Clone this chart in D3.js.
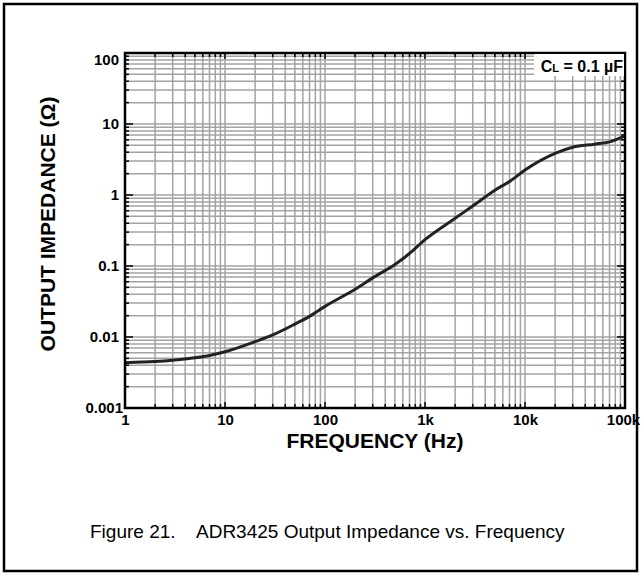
<!DOCTYPE html>
<html>
  <head>
    <meta charset="utf-8">
    <title>ADR3425 Output Impedance vs. Frequency</title>
    <style>
      body { margin: 0; background: #fff; }
      svg { display: block; }
      .tick text { font-family: "Liberation Sans", Arial, sans-serif; font-weight: bold; font-size: 15px; fill: #000; }
    </style>
  </head>
  <body>
    <div id="vis"></div>
    <script src="https://d3js.org/d3.v7.min.js"></script>
    <script>
    // curve: frequency (Hz) and impedance (ohm)
    let freq = [1, 2, 3, 5, 7, 10, 20, 30, 50, 70, 100, 200, 300, 500, 700, 1000, 2000, 3000, 5000, 7000, 10000, 20000, 30000, 50000, 70000, 100000];
    let zout = [0.00435, 0.0045, 0.0047, 0.0051, 0.0055, 0.0062, 0.0086, 0.0107, 0.0152, 0.0195, 0.0270, 0.047, 0.068, 0.105, 0.150, 0.235, 0.47, 0.70, 1.17, 1.55, 2.25, 3.86, 4.7, 5.2, 5.6, 6.8];
    let xTicks = [1, 10, 100, 1000, 10000, 100000];
    let xTickLabels = ["1", "10", "100", "1k", "10k", "100k"];
    let yTicks = [0.001, 0.01, 0.1, 1, 10, 100];
    let yTickLabels = ["0.001", "0.01", "0.1", "1", "10", "100"];

    let w = 641, h = 574;
    let pLeft = 125, pRight = 625, pTop = 53, pBottom = 408;
    let font = "Liberation Sans, Arial, sans-serif";

    let svg = d3.select("#vis").append("svg")
                .attr("width", w)
                .attr("height", h);

    // outer frame of the figure
    svg.append("rect").attr("x", 4).attr("y", 4)
       .attr("width", 633).attr("height", 567)
       .style("fill", "none").style("stroke", "#000").style("stroke-width", 2.5);

    let x = d3.scaleLog().domain([1, 100000]).range([pLeft, pRight]);
    let y = d3.scaleLog().domain([0.001, 100]).range([pBottom, pTop]);

    // all 1..9 per decade positions
    let minorX = [], minorY = [];
    for (let e = 0; e < 5; e++) for (let m = 1; m < 10; m++) minorX.push(m * Math.pow(10, e));
    for (let e = -3; e < 2; e++) for (let m = 1; m < 10; m++) minorY.push(+(m * Math.pow(10, e)).toPrecision(3));

    let grid = svg.append("g").style("stroke", "#a3a3a3").style("stroke-width", 1.5);
    grid.selectAll(".gx").data(minorX.slice(1)).enter().append("line")
        .attr("x1", d => x(d)).attr("x2", d => x(d))
        .attr("y1", pTop).attr("y2", pBottom);
    grid.selectAll(".gy").data(minorY.slice(1)).enter().append("line")
        .attr("x1", pLeft).attr("x2", pRight)
        .attr("y1", d => y(d)).attr("y2", d => y(d));

    // inward tick marks on all four sides
    let tk = svg.append("g").style("stroke", "#000").style("stroke-width", 1.5);
    minorX.forEach(function(d) {
      let len = xTicks.indexOf(d) >= 0 ? 6 : 4;
      tk.append("line").attr("x1", x(d)).attr("x2", x(d)).attr("y1", pBottom).attr("y2", pBottom - len);
      tk.append("line").attr("x1", x(d)).attr("x2", x(d)).attr("y1", pTop).attr("y2", pTop + len);
    });
    minorY.forEach(function(d) {
      let len = yTicks.indexOf(d) >= 0 ? 8 : 4;
      tk.append("line").attr("x1", pLeft).attr("x2", pLeft + len).attr("y1", y(d)).attr("y2", y(d));
      tk.append("line").attr("x1", pRight).attr("x2", pRight - len).attr("y1", y(d)).attr("y2", y(d));
    });

    // tick labels via axes (tick lines hidden)
    let xAxis = svg.append("g").attr("transform", "translate(0," + pBottom + ")")
      .call(d3.axisBottom(x).tickValues(xTicks).tickSize(0).tickPadding(6)
            .tickFormat((d, i) => xTickLabels[i]));
    let yAxis = svg.append("g").attr("transform", "translate(" + pLeft + ",0)")
      .call(d3.axisLeft(y).tickValues(yTicks).tickSize(0).tickPadding(6)
            .tickFormat((d, i) => yTickLabels[i]));
    xAxis.select(".domain").remove();
    yAxis.select(".domain").remove();
    yAxis.selectAll(".tick").filter(d => d === 100).select("text").attr("dy", "0.75em");
    yAxis.selectAll(".tick").filter(d => d === 0.001).select("text").attr("x", -2);
    xAxis.selectAll(".tick").filter(d => d === 100000).select("text").attr("x", -2);

    // curve
    let line = d3.line().x((d, i) => x(freq[i])).y((d, i) => y(zout[i])).curve(d3.curveMonotoneX);
    svg.append("path").datum(zout)
       .attr("d", line)
       .style("fill", "none").style("stroke", "#222").style("stroke-width", 3);

    // plot frame
    svg.append("rect").attr("x", pLeft).attr("y", pTop)
       .attr("width", pRight - pLeft).attr("height", pBottom - pTop)
       .style("fill", "none").style("stroke", "#000").style("stroke-width", 2.5);

    // CL label
    let lbl = svg.append("g").attr("transform", "translate(" + (pRight - 2) + "," + (pTop + 19) + ")");
    lbl.append("rect").attr("x", -89).attr("y", -18).attr("width", 90).attr("height", 22).style("fill", "#fff");
    let lt = lbl.append("text").attr("text-anchor", "end")
      .style("font-family", font).style("font-weight", "bold").style("font-size", "16px");
    lt.append("tspan").text("C");
    lt.append("tspan").style("font-size", "11px").text("L");
    lt.append("tspan").text(" = 0.1 µF");

    // axis titles
    svg.append("text").attr("x", (pLeft + pRight) / 2).attr("y", 448)
       .attr("text-anchor", "middle")
       .style("font-family", font).style("font-weight", "bold").style("font-size", "21px")
       .text("FREQUENCY (Hz)");
    svg.append("text").attr("transform", "translate(55,224) rotate(-90)")
       .attr("text-anchor", "middle")
       .style("font-family", font).style("font-weight", "bold").style("font-size", "21px")
       .text("OUTPUT IMPEDANCE (Ω)");

    // caption
    let cap = svg.append("text").attr("x", 90).attr("y", 538)
       .style("font-family", font).style("font-size", "19px");
    cap.append("tspan").text("Figure 21.");
    cap.append("tspan").attr("x", 196).text("ADR3425 Output Impedance vs. Frequency");
    </script>
  </body>
</html>
